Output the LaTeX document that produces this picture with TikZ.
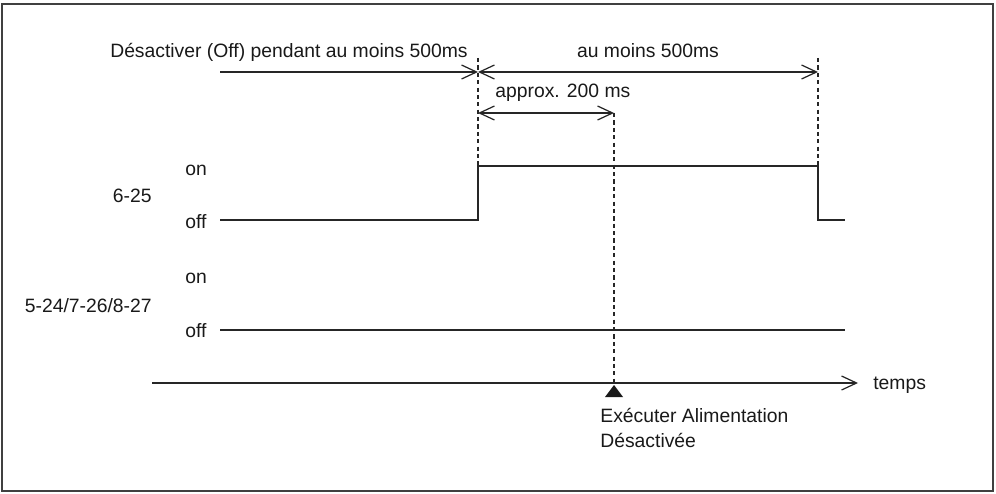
\documentclass[tikz,border=0pt]{standalone}
\usepackage{fontspec}
\setmainfont{Liberation Sans}
\usetikzlibrary{arrows.meta, positioning}

\begin{document}
\begin{tikzpicture}[
    x=0.02cm, y=-0.02cm,
    every node/.style={font=\fontsize{11}{13}\selectfont, inner sep=0pt, text=black!90},
    signal/.style={line width=1pt, draw=black!85},
    ray/.style={line width=0.7pt, draw=black!85, -{Straight Barb[length=3mm,width=2.8mm]}},
    span/.style={line width=0.7pt, draw=black!85, {Straight Barb[length=3mm,width=2.8mm]}-{Straight Barb[length=3mm,width=2.8mm]}},
    guide/.style={line width=0.6pt, draw=black!85, dash pattern=on 2.4pt off 1.8pt},
    lvl/.style={anchor=base west},
    sig/.style={anchor=base east},
]
\useasboundingbox (0,0) rectangle (996,493);
\draw[line width=0.8pt, draw=black!75] (2,4) rectangle (993,491);

% instants
\coordinate (a0) at (220,72);
\coordinate (a1) at (478,72);
\coordinate (a2) at (818,72);
\coordinate (b1) at (478,113);
\coordinate (b2) at (614,113);
\coordinate (g1) at (478,58);
\coordinate (g2) at (818,58);

% signal 6-25
\coordinate (s0) at (220,220);
\coordinate (s1) at (478,220);
\coordinate (s2) at (478,166);
\coordinate (s3) at (818,166);
\coordinate (s4) at (818,220);
\coordinate (s5) at (845,220);

% signal 5-24/7-26/8-27
\coordinate (r0) at (220,330);
\coordinate (r1) at (845,330);

% time axis
\coordinate (ax0) at (152,383);
\coordinate (ax1) at (858,383);
\coordinate (ex) at (614,383);

\node[anchor=base east] (wait) at (468,58) {Désactiver (Off) pendant au moins 500ms};
\node[anchor=base] (least) at (648,58) {au moins 500ms};
\node[anchor=base west] (approx) at (495,98) {approx. 200 ms};

\node[lvl] (on1) at (185,175) {on};
\node[lvl] (off1) at (185,228) {off};
\node[sig] (sig1) at (152,202) {6-25};
\node[lvl] (on2) at (185,283) {on};
\node[lvl] (off2) at (185,337) {off};
\node[sig] (sig2) at (152,312) {5-24/7-26/8-27};

\node[anchor=base west] (temps) at (873,389) {temps};
\node[anchor=base west, align=left] (exec) at (600,447) {Exécuter Alimentation\\[1pt]Désactivée};

\draw[ray] (a0) -- (a1);
\draw[span] (a1) -- (a2);
\draw[span] (b1) -- (b2);

\draw[guide] (g1) -- (s2);
\draw[guide] (g2) -- (s3);
\draw[guide] (b2) -- (ex);

\draw[signal] (s0) -- (s1) -- (s2) -- (s3) -- (s4) -- (s5);
\draw[signal] (r0) -- (r1);

\draw[ray] (ax0) -- (ax1);
\fill[black!90] (ex) ++(0,2) -- ++(-9,12) -- ++(18,0) -- cycle;

\end{tikzpicture}
\end{document}
